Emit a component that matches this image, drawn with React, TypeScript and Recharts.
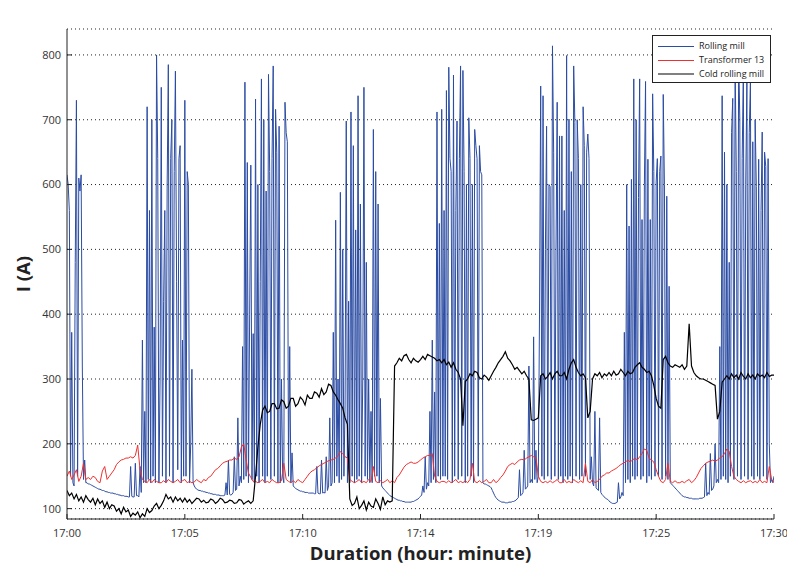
import React from 'react'
import { LineChart, Line, XAxis, YAxis, CartesianGrid } from 'recharts'

// time axis in minutes after 17:00
const xTicks = [0, 5, 10, 15, 20, 25, 30]
const xTickLabels = ['17:00', '17:05', '17:10', '17:14', '17:19', '17:25', '17:30']
const yTicks = [100, 200, 300, 400, 500, 600, 700, 800]

// Rolling mill, one value every 0.05 min (one row per minute)
const rollingMill = [
  615, 600, 560, 150, 372, 140, 135, 480, 730, 150, 610, 590, 615, 320, 145, 175, 140, 140, 138, 138,
  137, 136, 135, 134, 133, 132, 131, 130, 130, 129, 128, 128, 127, 126, 126, 125, 125, 124, 124, 124,
  123, 123, 122, 122, 121, 121, 120, 120, 120, 119, 119, 119, 118, 118, 165, 119, 118, 118, 170, 120,
  120, 118, 165, 125, 360, 140, 250, 140, 720, 145, 560, 140, 700, 150, 380, 140, 800, 640, 140, 300,
  750, 150, 420, 560, 140, 600, 785, 150, 640, 700, 140, 620, 775, 450, 160, 640, 660, 140, 360, 150,
  730, 150, 620, 600, 140, 200, 315, 140, 135, 132, 130, 129, 128, 128, 127, 127, 126, 126, 125, 125,
  124, 124, 123, 123, 122, 122, 122, 121, 121, 121, 120, 120, 120, 120, 121, 140, 121, 175, 122, 121,
  122, 125, 180, 128, 130, 240, 135, 150, 140, 350, 145, 758, 150, 634, 140, 400, 630, 145, 370, 140,
  732, 150, 600, 140, 450, 763, 150, 700, 140, 590, 150, 770, 620, 145, 640, 783, 150, 716, 650, 140,
  690, 140, 300, 150, 140, 727, 680, 666, 150, 350, 140, 186, 135, 133, 131, 130, 129, 128, 127, 127,
  126, 126, 125, 125, 125, 124, 124, 124, 124, 124, 123, 123, 165, 124, 123, 123, 175, 124, 125, 124,
  180, 128, 135, 240, 135, 140, 372, 140, 545, 150, 300, 140, 588, 145, 500, 150, 260, 698, 140, 420,
  140, 712, 150, 660, 140, 530, 145, 737, 150, 570, 140, 300, 750, 150, 480, 145, 300, 140, 250, 140,
  685, 150, 620, 150, 570, 140, 270, 135, 132, 130, 128, 126, 124, 122, 120, 119, 118, 117, 116, 115,
  114, 113, 113, 112, 112, 111, 111, 110, 110, 110, 110, 110, 110, 111, 111, 112, 113, 114, 115, 117,
  119, 121, 135, 125, 180, 130, 140, 135, 250, 140, 360, 145, 280, 140, 712, 150, 540, 145, 716, 150,
  560, 150, 745, 145, 781, 640, 620, 140, 769, 150, 560, 698, 145, 640, 783, 150, 776, 620, 140, 600,
  150, 703, 640, 150, 600, 140, 685, 660, 640, 150, 660, 620, 615, 140, 138, 138, 137, 136, 135, 134,
  132, 128, 124, 120, 117, 115, 113, 112, 111, 110, 110, 110, 109, 109, 109, 110, 110, 110, 111, 111,
  112, 113, 115, 117, 160, 120, 122, 125, 190, 130, 132, 135, 320, 140, 145, 140, 365, 145, 190, 140,
  150, 400, 752, 150, 737, 145, 500, 690, 150, 600, 597, 145, 814, 650, 150, 500, 727, 145, 675, 150,
  675, 140, 560, 150, 799, 145, 701, 150, 620, 140, 783, 696, 150, 700, 640, 145, 600, 150, 720, 660,
  150, 650, 678, 640, 145, 180, 140, 135, 250, 132, 130, 128, 240, 125, 122, 120, 118, 116, 115, 114,
  112, 110, 109, 108, 108, 108, 109, 110, 140, 115, 118, 125, 120, 372, 140, 600, 145, 536, 140, 608,
  150, 763, 145, 700, 150, 580, 763, 145, 546, 150, 600, 759, 140, 639, 150, 546, 145, 740, 620, 150,
  604, 640, 150, 620, 644, 145, 739, 600, 150, 582, 145, 443, 140, 138, 136, 134, 132, 130, 128, 126,
  124, 122, 120, 119, 118, 118, 117, 117, 116, 116, 116, 115, 115, 115, 115, 115, 115, 116, 116, 116,
  117, 118, 170, 120, 125, 122, 185, 128, 130, 135, 200, 140, 145, 140, 350, 145, 737, 150, 650, 145,
  600, 140, 480, 150, 680, 733, 145, 790, 620, 150, 800, 700, 145, 640, 780, 150, 600, 760, 145, 680,
  759, 150, 666, 145, 700, 597, 150, 639, 145, 560, 681, 150, 650, 628, 145, 640, 200, 140, 145, 140,
  150,
]

// Transformer 13, one value every 0.1 min
const transformer13 = [
  150, 158, 145, 152, 160, 142, 150, 170, 145, 148,
  145, 150, 148, 142, 140, 158, 165, 145, 150, 155,
  160, 168, 172, 175, 176, 178, 178, 180, 178, 182,
  198, 160, 145, 142, 140, 145, 140, 145, 142, 140,
  140, 143, 140, 145, 142, 140, 142, 145, 140, 143,
  145, 140, 142, 140, 141, 145, 142, 140, 145, 143,
  148, 150, 155, 160, 162, 166, 170, 172, 173, 175,
  175, 178, 176, 180, 195, 200, 175, 155, 148, 142,
  142, 140, 142, 145, 140, 142, 140, 145, 142, 140,
  140, 143, 170, 145, 142, 140, 143, 140, 145, 142,
  140, 145, 150, 155, 158, 160, 163, 166, 168, 170,
  172, 174, 175, 176, 178, 182, 188, 185, 180, 178,
  145, 142, 140, 142, 145, 140, 142, 140, 145, 142,
  165, 142, 140, 143, 140, 142, 145, 140, 143, 140,
  148, 152, 158, 164, 168, 170, 172, 170, 170, 172,
  175, 178, 180, 182, 182, 185, 150, 142, 140, 142,
  142, 140, 143, 140, 142, 145, 140, 142, 140, 143,
  140, 145, 170, 142, 140, 143, 140, 142, 145, 140,
  140, 145, 140, 143, 148, 152, 158, 165, 168, 170,
  168, 172, 175, 176, 175, 178, 180, 182, 180, 178,
  150, 142, 140, 142, 140, 143, 140, 142, 145, 140,
  140, 145, 140, 142, 140, 145, 142, 140, 143, 140,
  170, 142, 140, 145, 140, 142, 145, 150, 152, 155,
  155, 158, 160, 162, 165, 168, 170, 172, 175, 172,
  175, 178, 175, 180, 185, 192, 190, 178, 175, 172,
  160, 150, 142, 140, 145, 170, 142, 140, 143, 140,
  140, 142, 140, 143, 145, 140, 143, 148, 155, 162,
  166, 170, 172, 173, 175, 173, 175, 178, 180, 185,
  192, 188, 165, 150, 145, 142, 140, 143, 140, 142,
  143, 140, 142, 140, 145, 140, 142, 140, 165, 145,
  140,
]

// Cold rolling mill, one value every 0.1 min
const coldRollingMill = [
  128, 120, 124, 115, 122, 112, 118, 110, 120, 114,
  110, 116, 106, 115, 108, 112, 102, 110, 100, 106,
  104, 96, 100, 92, 102, 95, 98, 88, 93, 90,
  95, 86, 92, 88, 100, 94, 97, 104, 108, 100,
  105, 112, 122, 115, 118, 110, 118, 112, 116, 110,
  116, 110, 114, 108, 112, 116, 115, 110, 113, 109,
  110, 115, 113, 108, 111, 116, 114, 109, 110, 113,
  112, 108, 109, 114, 113, 107, 110, 112, 108, 112,
  150, 195, 230, 252, 258, 248, 250, 262, 262, 254,
  255, 268, 265, 255, 258, 270, 270, 258, 262, 272,
  268, 260, 275, 270, 270, 280, 278, 272, 285, 276,
  280, 292, 290, 280, 275, 268, 262, 255, 240, 230,
  115, 105, 108, 118, 100, 105, 112, 98, 110, 104,
  102, 115, 108, 99, 118, 106, 112, 110, 112, 320,
  325, 332, 328, 336, 338, 330, 325, 332, 328, 326,
  330, 335, 330, 338, 336, 334, 332, 328, 330, 325,
  330, 322, 326, 318, 325, 315, 310, 300, 228, 296,
  300, 308, 305, 312, 310, 302, 300, 306, 303, 298,
  305, 312, 318, 325, 330, 335, 342, 332, 328, 322,
  315, 318, 313, 308, 312, 305, 300, 237, 236, 238,
  240, 305, 308, 300, 304, 310, 300, 308, 312, 305,
  305, 310, 300, 315, 325, 330, 318, 310, 305, 308,
  302, 240, 250, 300, 308, 305, 310, 302, 308, 305,
  310, 305, 312, 306, 308, 315, 310, 305, 312, 308,
  310, 318, 322, 325, 318, 315, 310, 312, 305, 290,
  270, 258, 255, 330, 335, 325, 320, 318, 322, 320,
  318, 322, 315, 320, 385, 320, 310, 305, 302, 300,
  300, 298, 296, 294, 292, 290, 238, 250, 295, 300,
  305, 300, 308, 302, 306, 300, 310, 304, 300, 308,
  302, 306, 300, 308, 304, 306, 302, 310, 304, 306,
  306,
]

const toSeries = (values: number[], step: number) =>
  values.map((v, i) => ({ t: Math.round(i * step * 100) / 100, v }))

const rollingData = toSeries(rollingMill, 0.05)
const transformerData = toSeries(transformer13, 0.1)
const coldData = toSeries(coldRollingMill, 0.1)

const tickStyle = { fontFamily: 'Open Sans', fontSize: 11, fill: '#333' }

const legendItems = [
  { name: 'Rolling mill', color: '#2b4ca3', width: 1 },
  { name: 'Transformer 13', color: '#f03030', width: 1 },
  { name: 'Cold rolling mill', color: '#808080', width: 2 },
]

export default function App() {
  return (
    <div style={{ position: 'absolute', left: 0, top: 0, width: 787, height: 568, background: '#fff' }}>
      <LineChart width={787} height={568} margin={{ top: 29, right: 13, bottom: 19, left: 27 }}>
        <CartesianGrid vertical={false} stroke="#222" strokeDasharray="1 3" />
        <XAxis
          dataKey="t"
          type="number"
          domain={[0, 30]}
          ticks={xTicks}
          tickFormatter={(v: number) => xTickLabels[xTicks.indexOf(v)] ?? ''}
          tick={tickStyle}
          tickSize={-5}
          tickMargin={15}
          height={30}
          stroke="#222"
          allowDataOverflow
          label={{
            value: 'Duration (hour: minute)',
            position: 'insideBottom',
            offset: -11,
            style: { fontFamily: 'Open Sans', fontSize: 18.5, fontWeight: 700, fill: '#222' },
          }}
        />
        <XAxis
          xAxisId="top"
          orientation="top"
          type="number"
          domain={[0, 30]}
          ticks={xTicks}
          tick={false}
          tickSize={-5}
          height={0}
          stroke="#222"
          label={{
            value: '50 Hz currents (200ms values)',
            position: 'top',
            offset: 8,
            style: { fontFamily: 'Open Sans', fontSize: 12, letterSpacing: 0.3, fill: '#222' },
          }}
        />
        <YAxis
          type="number"
          domain={[84, 840]}
          ticks={yTicks}
          tick={tickStyle}
          tickSize={-5}
          tickMargin={11}
          width={40}
          stroke="#222"
          allowDataOverflow
          label={{
            value: 'I (A)',
            angle: -90,
            position: 'insideLeft',
            offset: -4,
            style: { fontFamily: 'Open Sans', fontSize: 18.5, fontWeight: 700, fill: '#222', textAnchor: 'middle' },
          }}
        />
        <YAxis
          yAxisId="right"
          orientation="right"
          type="number"
          domain={[84, 840]}
          ticks={yTicks}
          tick={false}
          tickSize={-5}
          width={0}
          stroke="#222"
        />
        <Line data={rollingData} dataKey="v" type="linear" stroke="#2b4ca3" strokeWidth={1} dot={false} isAnimationActive={false} />
        <Line data={transformerData} dataKey="v" type="linear" stroke="#f03030" strokeWidth={1} dot={false} isAnimationActive={false} />
        <Line data={coldData} dataKey="v" type="linear" stroke="#000" strokeWidth={1.2} dot={false} isAnimationActive={false} />
      </LineChart>
      <div
        style={{
          position: 'absolute', left: 652, top: 35, width: 119, height: 48, boxSizing: 'border-box',
          border: '1px solid #222', background: '#fff', fontFamily: 'Open Sans', fontSize: 9, color: '#222',
        }}
      >
        {legendItems.map((item, i) => (
          <div key={item.name} style={{ position: 'absolute', left: 5, top: 3 + i * 14, height: 14, display: 'flex', alignItems: 'center' }}>
            <div style={{ width: 36, height: item.width, background: item.color, marginRight: 5 }} />
            <span style={{ lineHeight: '14px', whiteSpace: 'nowrap' }}>{item.name}</span>
          </div>
        ))}
      </div>
    </div>
  )
}
